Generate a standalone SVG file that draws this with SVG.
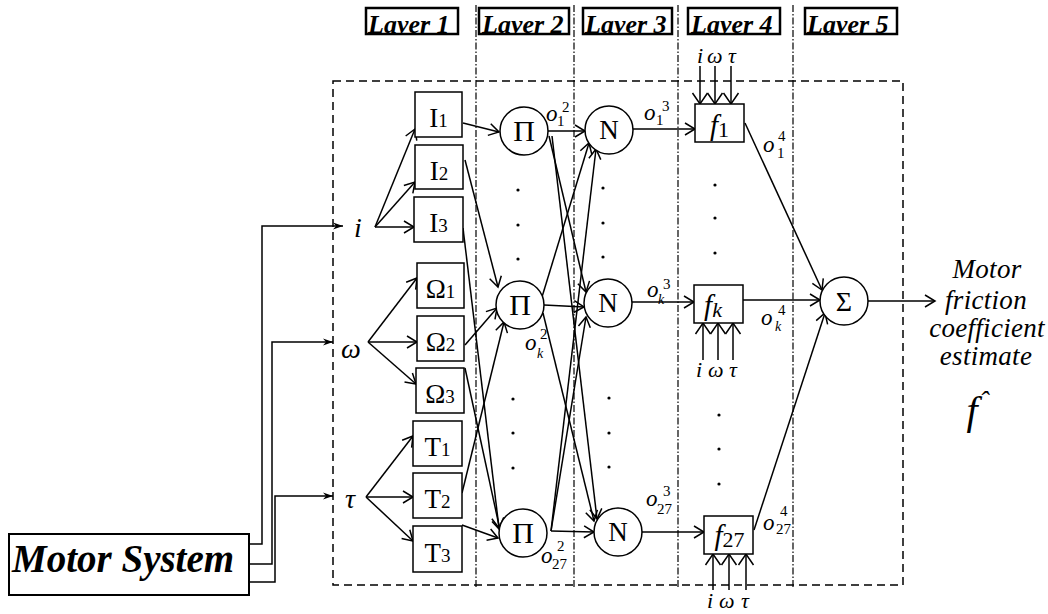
<svg xmlns="http://www.w3.org/2000/svg" width="1048" height="614" viewBox="0 0 1048 614">
<style>
.t{font-family:"Liberation Serif","Times New Roman",serif;fill:#000}
.it{font-style:italic}
.bi{font-style:italic;font-weight:bold}
.ln{stroke:#000;stroke-width:1.5;fill:none}
.ar{marker-end:url(#a)}
.as{marker-end:url(#s)}
.aw{marker-end:url(#w)}
.box{fill:#fff;stroke:#000;stroke-width:1.5}
.lb{fill:none;stroke:#000;stroke-width:2.5}
.dd{stroke:#000;stroke-width:1.2;stroke-dasharray:7 2 1.5 2;fill:none}
.dash{fill:none;stroke:#000;stroke-width:1.5;stroke-dasharray:8 5}
.dot{fill:#000}
</style>
<defs>
<marker id="a" markerUnits="userSpaceOnUse" markerWidth="14" markerHeight="14" viewBox="0 0 14 14" refX="12" refY="7" orient="auto" overflow="visible">
<path d="M2,1 L12,7 L2,13" fill="none" stroke="#000" stroke-width="1.5"/>
</marker>
<marker id="s" markerUnits="userSpaceOnUse" markerWidth="12" markerHeight="8" viewBox="0 0 12 8" refX="11" refY="4" orient="auto" overflow="visible">
<path d="M1,0.5 L11,4 L1,7.5 L4,4 Z" fill="#000" stroke="none"/>
</marker>
<marker id="w" markerUnits="userSpaceOnUse" markerWidth="13" markerHeight="16" viewBox="0 0 13 16" refX="12" refY="8" orient="auto" overflow="visible">
<path d="M1,0.5 L12,8 L1,15.5" fill="none" stroke="#000" stroke-width="1.5"/>
</marker>
<clipPath id="lc">
<rect x="366" y="8" width="92" height="26"/>
<rect x="479" y="8" width="90" height="26"/>
<rect x="583" y="8" width="89" height="26"/>
<rect x="688" y="8" width="92" height="26"/>
<rect x="805" y="8" width="92" height="26"/>
</clipPath>
</defs>
<rect width="1048" height="614" fill="#fff"/>

<g id="frame">
<rect class="dash" x="333" y="81" width="570" height="504"/>
<line class="dd" x1="476" y1="5" x2="476" y2="588"/>
<line class="dd" x1="574" y1="5" x2="574" y2="588"/>
<line class="dd" x1="678" y1="5" x2="678" y2="588"/>
<line class="dd" x1="793" y1="5" x2="793" y2="588"/>
</g>

<g id="layer-labels">
<rect class="lb" x="366" y="8" width="92" height="26"/>
<rect class="lb" x="479" y="8" width="90" height="26"/>
<rect class="lb" x="583" y="8" width="89" height="26"/>
<rect class="lb" x="688" y="8" width="92" height="26"/>
<rect class="lb" x="805" y="8" width="92" height="26"/>
<g clip-path="url(#lc)" class="t bi" font-size="26">
<text x="368" y="32.5">Layer 1</text>
<text x="482" y="32.5">Layer 2</text>
<text x="585" y="32.5">Layer 3</text>
<text x="691" y="32.5">Layer 4</text>
<text x="807" y="32.5">Layer 5</text>
</g>
</g>

<g id="connectors">
<polyline class="ln as" points="249,544 262,544 262,226 343,226"/>
<polyline class="ln as" points="249,564 272,564 272,342 333,342"/>
<polyline class="ln as" points="249,582 275,582 275,496 333,496"/>
<line class="ln ar" x1="375" y1="227" x2="415" y2="129"/>
<line class="ln ar" x1="375" y1="227" x2="415" y2="182"/>
<line class="ln ar" x1="375" y1="227" x2="414" y2="227"/>
<line class="ln ar" x1="368" y1="342" x2="417" y2="278"/>
<line class="ln ar" x1="368" y1="342" x2="417" y2="342"/>
<line class="ln ar" x1="368" y1="342" x2="416" y2="384"/>
<line class="ln ar" x1="366" y1="497" x2="413" y2="436"/>
<line class="ln ar" x1="366" y1="497" x2="413" y2="497"/>
<line class="ln ar" x1="366" y1="497" x2="413" y2="541"/>
<line class="ln ar" x1="463" y1="123" x2="499" y2="132"/>
<line class="ln ar" x1="465" y1="160" x2="498" y2="287"/>
<line class="ln ar" x1="463" y1="228" x2="499" y2="528"/>
<line class="ln ar" x1="465" y1="345" x2="497" y2="308"/>
<line class="ln ar" x1="465" y1="368" x2="500" y2="530"/>
<line class="ln ar" x1="462" y1="493" x2="504" y2="322"/>
<line class="ln ar" x1="462" y1="525" x2="498" y2="538"/>
<line class="ln ar" x1="548" y1="131" x2="585" y2="131"/>
<line class="ln ar" x1="549" y1="136" x2="586" y2="292"/>
<line class="ln ar" x1="552" y1="136" x2="597" y2="519"/>
<line class="ln ar" x1="542" y1="297" x2="589" y2="143"/>
<line class="ln ar" x1="544" y1="305" x2="584" y2="307"/>
<line class="ln ar" x1="543" y1="313" x2="594" y2="521"/>
<line class="ln ar" x1="551" y1="531" x2="596" y2="149"/>
<line class="ln ar" x1="551" y1="531" x2="586" y2="317"/>
<line class="ln ar" x1="551" y1="531" x2="594" y2="532"/>
<line class="ln ar" x1="633" y1="129" x2="695" y2="129"/>
<line class="ln ar" x1="632" y1="302" x2="694" y2="302"/>
<line class="ln ar" x1="641" y1="532" x2="704" y2="532"/>
<line class="ln ar" x1="745" y1="123" x2="822" y2="290"/>
<line class="ln ar" x1="743" y1="300" x2="820" y2="300"/>
<line class="ln ar" x1="754" y1="530" x2="825" y2="313"/>
<line class="ln ar" x1="868" y1="301" x2="935" y2="301"/>
<line class="ln aw" x1="700" y1="66" x2="700" y2="104"/>
<line class="ln aw" x1="715" y1="66" x2="715" y2="104"/>
<line class="ln aw" x1="731" y1="66" x2="731" y2="104"/>
<line class="ln aw" x1="703" y1="360" x2="703" y2="323"/>
<line class="ln aw" x1="718" y1="360" x2="718" y2="323"/>
<line class="ln aw" x1="733" y1="360" x2="733" y2="323"/>
<line class="ln aw" x1="713" y1="590" x2="713" y2="554"/>
<line class="ln aw" x1="729" y1="590" x2="729" y2="554"/>
<line class="ln aw" x1="746" y1="590" x2="746" y2="554"/>
</g>

<g id="motor-system">
<rect x="9" y="534" width="240" height="61" fill="#fff" stroke="#000" stroke-width="2"/>
<text class="t bi" x="12" y="572" font-size="39">Motor System</text>
</g>

<g id="inputs" class="t it" font-size="28">
<text x="354" y="237">i</text>
<text x="341" y="358">ω</text>
<text x="345" y="508">τ</text>
</g>

<g id="I1"><rect class="box" x="415" y="92" width="47" height="45"/><text class="t" x="438.5" y="127" text-anchor="middle" font-size="27">I<tspan font-size="19">1</tspan></text></g>
<g id="I2"><rect class="box" x="415" y="145" width="48" height="44"/><text class="t" x="439" y="179.5" text-anchor="middle" font-size="27">I<tspan font-size="19">2</tspan></text></g>
<g id="I3"><rect class="box" x="414" y="197" width="49" height="45"/><text class="t" x="438.5" y="232" text-anchor="middle" font-size="27">I<tspan font-size="19">3</tspan></text></g>
<g id="W1"><rect class="box" x="417" y="263" width="47" height="45"/><text class="t" x="440.5" y="298" text-anchor="middle" font-size="27">Ω<tspan font-size="19">1</tspan></text></g>
<g id="W2"><rect class="box" x="417" y="316" width="47" height="45"/><text class="t" x="440.5" y="351" text-anchor="middle" font-size="27">Ω<tspan font-size="19">2</tspan></text></g>
<g id="W3"><rect class="box" x="416" y="368" width="48" height="45"/><text class="t" x="440" y="403" text-anchor="middle" font-size="27">Ω<tspan font-size="19">3</tspan></text></g>
<g id="T1"><rect class="box" x="413" y="421" width="49" height="45"/><text class="t" x="437.5" y="456" text-anchor="middle" font-size="27">T<tspan font-size="19">1</tspan></text></g>
<g id="T2"><rect class="box" x="413" y="473" width="49" height="45"/><text class="t" x="437.5" y="508" text-anchor="middle" font-size="27">T<tspan font-size="19">2</tspan></text></g>
<g id="T3"><rect class="box" x="413" y="526" width="49" height="46"/><text class="t" x="437.5" y="561.5" text-anchor="middle" font-size="27">T<tspan font-size="19">3</tspan></text></g>

<g id="P1"><circle class="box" cx="524" cy="131" r="24"/><text class="t" x="524" y="141" text-anchor="middle" font-size="30">Π</text></g>
<g id="Pk"><circle class="box" cx="520" cy="305" r="24"/><text class="t" x="520" y="315" text-anchor="middle" font-size="30">Π</text></g>
<g id="P27"><circle class="box" cx="523" cy="533" r="24"/><text class="t" x="523" y="543" text-anchor="middle" font-size="30">Π</text></g>

<g id="N1"><circle class="box" cx="609" cy="130" r="24"/><text class="t" x="609" y="139" text-anchor="middle" font-size="27">N</text></g>
<g id="Nk"><circle class="box" cx="608" cy="303" r="24"/><text class="t" x="608" y="312" text-anchor="middle" font-size="27">N</text></g>
<g id="N27"><circle class="box" cx="618" cy="532" r="24"/><text class="t" x="618" y="541" text-anchor="middle" font-size="27">N</text></g>

<g id="f1"><rect class="box" x="695" y="104" width="49" height="38"/><text class="t" x="719.5" y="135" text-anchor="middle" font-size="29"><tspan class="it">f</tspan><tspan font-size="22" dy="2">1</tspan></text></g>
<g id="fk"><rect class="box" x="694" y="285" width="49" height="38"/><text class="t" x="713" y="315" text-anchor="middle" font-size="29"><tspan class="it">f</tspan><tspan class="it" font-size="22" dy="2">k</tspan></text></g>
<g id="f27"><rect class="box" x="704" y="516" width="49" height="38"/><text class="t" x="729.5" y="545" text-anchor="middle" font-size="29"><tspan class="it">f</tspan><tspan font-size="22" dy="2">27</tspan></text></g>

<g id="sum"><circle class="box" cx="844" cy="301" r="24"/><text class="t" x="844" y="311" text-anchor="middle" font-size="28">Σ</text></g>

<g id="f-inputs" class="t it" font-size="22">
<text x="697" y="63">i</text><text x="707" y="63">ω</text><text x="728" y="63">τ</text>
<text x="696" y="377">i</text><text x="708" y="377">ω</text><text x="729" y="377">τ</text>
<text x="707" y="608">i</text><text x="719" y="608">ω</text><text x="741" y="608">τ</text>
</g>

<g id="outputs" class="t">
<text class="it" x="546" y="121" font-size="23">o</text><text x="562" y="112" font-size="15">2</text><text x="557" y="126" font-size="15">1</text>
<text class="it" x="644" y="120" font-size="23">o</text><text x="662" y="111" font-size="15">3</text><text x="656" y="125" font-size="15">1</text>
<text class="it" x="525" y="350" font-size="23">o</text><text x="540" y="339" font-size="15">2</text><text class="it" x="537" y="358" font-size="14">k</text>
<text class="it" x="647" y="297" font-size="23">o</text><text x="663" y="289" font-size="15">3</text><text class="it" x="658" y="304" font-size="14">k</text>
<text class="it" x="541" y="563" font-size="23">o</text><text x="557" y="551" font-size="15">2</text><text x="552" y="569" font-size="15">27</text>
<text class="it" x="646" y="506" font-size="23">o</text><text x="663" y="496" font-size="15">3</text><text x="657" y="514" font-size="15">27</text>
<text class="it" x="763" y="152" font-size="23">o</text><text x="778" y="141" font-size="15">4</text><text x="777" y="158" font-size="15">1</text>
<text class="it" x="761" y="325" font-size="23">o</text><text x="778" y="315" font-size="15">4</text><text class="it" x="775" y="331" font-size="14">k</text>
<text class="it" x="763" y="530" font-size="23">o</text><text x="780" y="516" font-size="15">4</text><text x="776" y="534" font-size="15">27</text>
</g>

<g id="dots">
<circle class="dot" cx="518" cy="190" r="1.6"/><circle class="dot" cx="518" cy="225" r="1.6"/><circle class="dot" cx="518" cy="259" r="1.6"/>
<circle class="dot" cx="513" cy="399" r="1.6"/><circle class="dot" cx="513" cy="433" r="1.6"/><circle class="dot" cx="513" cy="468" r="1.6"/>
<circle class="dot" cx="603" cy="188" r="1.6"/><circle class="dot" cx="603" cy="223" r="1.6"/><circle class="dot" cx="603" cy="257" r="1.6"/>
<circle class="dot" cx="609" cy="398" r="1.6"/><circle class="dot" cx="609" cy="433" r="1.6"/><circle class="dot" cx="609" cy="467" r="1.6"/>
<circle class="dot" cx="715" cy="185" r="1.6"/><circle class="dot" cx="715" cy="218" r="1.6"/><circle class="dot" cx="715" cy="253" r="1.6"/>
<circle class="dot" cx="719" cy="415" r="1.6"/><circle class="dot" cx="719" cy="449" r="1.6"/><circle class="dot" cx="719" cy="484" r="1.6"/>
</g>

<g id="result" class="t it" font-size="27" letter-spacing="0.3" text-anchor="middle">
<text x="987" y="278">Motor</text>
<text x="986" y="309">friction</text>
<text x="987" y="337">coefficient</text>
<text x="986" y="365">estimate</text>
<text x="972" y="424" font-size="40" letter-spacing="0">f</text>
<text x="984" y="410" font-size="28" letter-spacing="0">ˆ</text>
</g>
</svg>
